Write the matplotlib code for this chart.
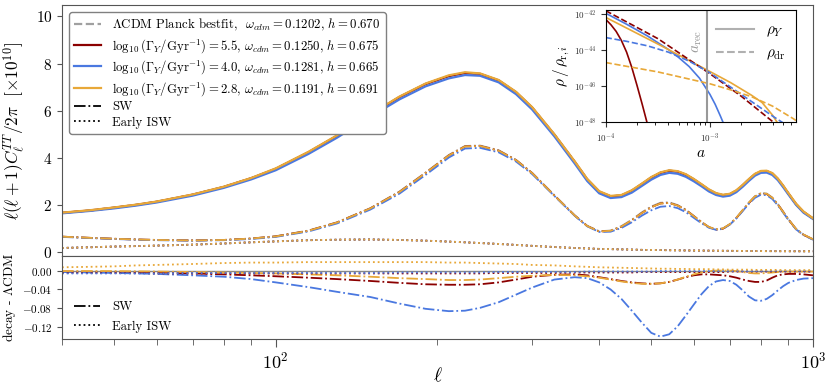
import matplotlib
matplotlib.use("Agg")
import matplotlib.pyplot as plt
import numpy as np

plt.rcParams["font.family"] = "serif"
plt.rcParams["font.serif"] = ["cmr10"]
plt.rcParams["mathtext.fontset"] = "cm"
plt.rcParams["axes.formatter.use_mathtext"] = True
plt.rcParams["axes.unicode_minus"] = True

# multipoles
ell = [40, 45, 50, 55, 60, 70, 80, 90, 100, 115, 130, 150, 170, 190, 210, 225, 240,
       260, 280, 300, 330, 360, 380, 400, 420, 440, 460, 480, 500, 520, 540, 560,
       580, 600, 620, 640, 660, 680, 700, 720, 740, 760, 780, 800, 820, 840, 860,
       880, 900, 930, 960, 1000]

# total TT  [x 1e10]
tt_lcdm = [1.66, 1.76, 1.88, 2.00, 2.13, 2.43, 2.76, 3.13, 3.53, 4.23, 4.93, 5.83, 6.58,
           7.13, 7.47, 7.60, 7.56, 7.28, 6.78, 6.13, 4.98, 3.83, 3.08, 2.56, 2.36, 2.40,
           2.60, 2.88, 3.16, 3.36, 3.45, 3.41, 3.28, 3.08, 2.86, 2.64, 2.48, 2.41, 2.45,
           2.60, 2.83, 3.08, 3.30, 3.42, 3.43, 3.33, 3.10, 2.80, 2.48, 2.03, 1.70, 1.42]
tt_55 = [1.66, 1.76, 1.88, 2.00, 2.13, 2.43, 2.76, 3.13, 3.53, 4.23, 4.93, 5.83, 6.58,
         7.13, 7.47, 7.60, 7.56, 7.28, 6.78, 6.13, 4.98, 3.83, 3.08, 2.56, 2.36, 2.40,
         2.60, 2.88, 3.16, 3.36, 3.45, 3.41, 3.28, 3.08, 2.86, 2.64, 2.48, 2.41, 2.45,
         2.60, 2.83, 3.08, 3.30, 3.42, 3.43, 3.33, 3.10, 2.80, 2.48, 2.03, 1.70, 1.42]
tt_40 = [1.64, 1.74, 1.85, 1.97, 2.10, 2.39, 2.72, 3.08, 3.47, 4.16, 4.85, 5.74, 6.48,
         7.03, 7.37, 7.51, 7.48, 7.20, 6.70, 6.05, 4.91, 3.76, 3.01, 2.49, 2.29, 2.33,
         2.52, 2.80, 3.07, 3.27, 3.36, 3.32, 3.19, 3.00, 2.79, 2.57, 2.42, 2.35, 2.39,
         2.54, 2.77, 3.02, 3.24, 3.36, 3.37, 3.27, 3.05, 2.75, 2.44, 2.00, 1.67, 1.40]
tt_28 = [1.67, 1.77, 1.89, 2.01, 2.14, 2.44, 2.77, 3.14, 3.55, 4.25, 4.95, 5.85, 6.60,
         7.15, 7.50, 7.63, 7.58, 7.30, 6.80, 6.15, 5.00, 3.85, 3.10, 2.58, 2.38, 2.42,
         2.62, 2.90, 3.18, 3.38, 3.47, 3.43, 3.30, 3.10, 2.88, 2.66, 2.50, 2.43, 2.47,
         2.62, 2.85, 3.10, 3.32, 3.44, 3.45, 3.35, 3.12, 2.82, 2.50, 2.05, 1.72, 1.43]

# Sachs-Wolfe contribution
sw_28 = [0.65, 0.60, 0.56, 0.53, 0.51, 0.49, 0.51, 0.57, 0.66, 0.90, 1.25, 1.85, 2.55,
         3.35, 4.10, 4.48, 4.50, 4.30, 3.90, 3.35, 2.40, 1.55, 1.10, 0.87, 0.90, 1.08,
         1.35, 1.65, 1.90, 2.06, 2.08, 1.97, 1.78, 1.52, 1.27, 1.06, 0.96, 1.00, 1.18,
         1.45, 1.78, 2.10, 2.36, 2.49, 2.47, 2.30, 2.02, 1.70, 1.38, 0.98, 0.74, 0.54]
sw_40 = [0.64, 0.59, 0.55, 0.52, 0.50, 0.48, 0.50, 0.55, 0.64, 0.87, 1.21, 1.80, 2.48,
         3.27, 4.01, 4.39, 4.42, 4.23, 3.84, 3.31, 2.38, 1.54, 1.09, 0.85, 0.86, 1.02,
         1.26, 1.54, 1.77, 1.92, 1.95, 1.86, 1.69, 1.45, 1.22, 1.03, 0.94, 0.98, 1.16,
         1.42, 1.74, 2.05, 2.30, 2.43, 2.41, 2.25, 1.98, 1.67, 1.36, 0.96, 0.72, 0.52]
sw_lcdm = [0.65, 0.60, 0.56, 0.53, 0.51, 0.49, 0.51, 0.57, 0.67, 0.91, 1.26, 1.86, 2.57,
           3.37, 4.12, 4.50, 4.52, 4.32, 3.91, 3.36, 2.41, 1.56, 1.11, 0.88, 0.91, 1.10,
           1.37, 1.68, 1.93, 2.09, 2.11, 1.99, 1.79, 1.53, 1.27, 1.06, 0.96, 1.00, 1.18,
           1.45, 1.78, 2.10, 2.37, 2.50, 2.48, 2.31, 2.03, 1.71, 1.39, 0.98, 0.74, 0.54]
sw_55 = [0.65, 0.60, 0.56, 0.53, 0.51, 0.49, 0.51, 0.57, 0.66, 0.90, 1.25, 1.85, 2.55,
         3.35, 4.10, 4.48, 4.50, 4.30, 3.90, 3.35, 2.40, 1.55, 1.10, 0.87, 0.89, 1.07,
         1.34, 1.65, 1.90, 2.06, 2.08, 1.97, 1.78, 1.52, 1.27, 1.05, 0.95, 0.99, 1.17,
         1.44, 1.76, 2.08, 2.35, 2.48, 2.46, 2.29, 2.02, 1.70, 1.38, 0.97, 0.73, 0.53]

# early ISW contribution
eisw = [0.17, 0.20, 0.23, 0.25, 0.27, 0.31, 0.36, 0.41, 0.45, 0.50, 0.52, 0.53, 0.51,
        0.48, 0.44, 0.41, 0.38, 0.34, 0.30, 0.26, 0.21, 0.17, 0.15, 0.13, 0.12, 0.11,
        0.10, 0.09, 0.085, 0.08, 0.075, 0.07, 0.065, 0.06, 0.058, 0.055, 0.053, 0.05,
        0.048, 0.046, 0.044, 0.042, 0.04, 0.038, 0.036, 0.035, 0.034, 0.033, 0.032,
        0.031, 0.03, 0.03]

# differences decay - LCDM
dsw_55 = [-0.002, -0.0025, -0.003, -0.0035, -0.004, -0.006, -0.008, -0.010, -0.012,
          -0.015, -0.018, -0.022, -0.026, -0.029, -0.030, -0.030, -0.029, -0.025, -0.019,
          -0.013, -0.009, -0.008, -0.010, -0.014, -0.018, -0.022, -0.025, -0.027, -0.028,
          -0.027, -0.024, -0.019, -0.014, -0.010, -0.008, -0.008, -0.009, -0.010, -0.012,
          -0.015, -0.019, -0.022, -0.024, -0.024, -0.021, -0.015, -0.010, -0.008, -0.007,
          -0.007, -0.008, -0.010]
dsw_40 = [-0.003, -0.004, -0.005, -0.006, -0.007, -0.010, -0.013, -0.018, -0.025, -0.035,
          -0.045, -0.056, -0.070, -0.081, -0.086, -0.085, -0.079, -0.067, -0.051, -0.036,
          -0.019, -0.014, -0.016, -0.025, -0.040, -0.060, -0.085, -0.110, -0.132, -0.140,
          -0.135, -0.118, -0.095, -0.072, -0.050, -0.033, -0.023, -0.020, -0.022, -0.030,
          -0.042, -0.055, -0.063, -0.064, -0.060, -0.052, -0.042, -0.033, -0.026, -0.020,
          -0.017, -0.016]
dsw_28 = [-0.001, -0.001, -0.001, -0.0015, -0.002, -0.003, -0.004, -0.005, -0.006, -0.008,
          -0.010, -0.013, -0.016, -0.018, -0.020, -0.020, -0.019, -0.016, -0.013, -0.011,
          -0.009, -0.010, -0.012, -0.015, -0.019, -0.023, -0.026, -0.028, -0.028, -0.027,
          -0.024, -0.019, -0.013, -0.008, -0.004, -0.001, 0.000, 0.000, 0.000, -0.001,
          -0.003, -0.005, -0.006, -0.006, -0.005, -0.004, -0.003, -0.002, -0.002, -0.002,
          -0.002, -0.002]
deisw_55 = [-0.005, -0.005, -0.005, -0.005, -0.006, -0.006, -0.006, -0.006, -0.006, -0.006,
            -0.006, -0.006, -0.006, -0.006, -0.006, -0.006, -0.006, -0.005, -0.005, -0.005,
            -0.005, -0.004, -0.004, -0.004, -0.004, -0.004, -0.004, -0.003, -0.003, -0.003,
            -0.003, -0.003, -0.003, -0.003, -0.003, -0.003, -0.003, -0.003, -0.002, -0.002,
            -0.002, -0.002, -0.002, -0.002, -0.002, -0.002, -0.002, -0.002, -0.002, -0.002,
            -0.002, -0.002]
deisw_40 = [-0.006, -0.006, -0.006, -0.006, -0.006, -0.005, -0.005, -0.005, -0.005, -0.005,
            -0.005, -0.005, -0.004, -0.004, -0.004, -0.004, -0.004, -0.003, -0.003, -0.003,
            -0.003, -0.003, -0.002, -0.002, -0.002, -0.002, -0.002, -0.002, -0.002, -0.001,
            -0.001, -0.001, -0.001, -0.001, -0.001, -0.001, -0.001, -0.001, -0.001, -0.001,
            -0.001, -0.001, -0.001, -0.001, -0.0005, -0.0005, -0.0005, -0.0005, -0.0005,
            -0.0005, -0.0005, -0.0005]
deisw_28 = [0.007, 0.008, 0.009, 0.011, 0.012, 0.014, 0.016, 0.017, 0.017, 0.018, 0.018,
            0.018, 0.018, 0.018, 0.017, 0.017, 0.016, 0.015, 0.014, 0.012, 0.011, 0.009,
            0.008, 0.007, 0.0065, 0.006, 0.0055, 0.005, 0.0045, 0.004, 0.004, 0.0035, 0.0035,
            0.003, 0.003, 0.003, 0.0025, 0.0025, 0.002, 0.002, 0.002, 0.002, 0.0015, 0.0015,
            0.0015, 0.0015, 0.0015, 0.001, 0.001, 0.001, 0.001, 0.001]

# inset: log10(a), log10(rho/rho_r,i)
la_y55 = [-4.0, -3.95, -3.9, -3.85, -3.8, -3.75, -3.7, -3.65, -3.6]
lr_y55 = [-42.28, -42.58, -42.95, -43.45, -44.1, -44.95, -45.95, -47.0, -48.1]
la_y40 = [-4.0, -3.8, -3.6, -3.4, -3.3, -3.2, -3.1, -3.0, -2.95, -2.9, -2.86]
lr_y40 = [-41.94, -42.55, -43.2, -43.95, -44.4, -44.9, -45.55, -46.45, -47.0, -47.65, -48.2]
la_y28 = [-4.0, -3.5, -3.0, -2.8, -2.6, -2.5, -2.4, -2.35]
lr_y28 = [-42.17, -43.65, -45.18, -45.8, -46.5, -46.9, -47.6, -48.05]
la_dr55 = [-4.0, -3.5, -3.0, -2.7, -2.39]
lr_dr55 = [-41.8, -43.35, -45.3, -46.55, -48.0]
la_dr40 = [-4.0, -3.8, -3.6, -3.4, -3.2, -3.0, -2.8, -2.6, -2.4, -2.28]
lr_dr40 = [-43.29, -43.5, -43.75, -44.1, -44.6, -45.25, -46.05, -46.85, -47.65, -48.1]
la_dr28 = [-4.0, -3.5, -3.0, -2.8, -2.6, -2.4, -2.2, -2.175]
lr_dr28 = [-44.68, -45.2, -45.86, -46.2, -46.58, -47.1, -47.8, -47.9]
a_rec = 9.4e-4

labels = [r"$\Lambda$CDM Planck bestfit,  $\omega_{cdm} = 0.1202$, $h = 0.670$",
          r"$\log_{10}(\Gamma_Y/\mathrm{Gyr}^{-1}) = 5.5$, $\omega_{cdm} = 0.1250$, $h = 0.675$",
          r"$\log_{10}(\Gamma_Y/\mathrm{Gyr}^{-1}) = 4.0$, $\omega_{cdm} = 0.1281$, $h = 0.665$",
          r"$\log_{10}(\Gamma_Y/\mathrm{Gyr}^{-1}) = 2.8$, $\omega_{cdm} = 0.1191$, $h = 0.691$"]
c_gray = "#a0a0a0"
c_red = "#8b0000"
c_blue = "#4a78e0"
c_yel = "#e8a838"
spine_c = "#555555"

fig = plt.figure(figsize=(8.3, 3.92), dpi=100)
ax = fig.add_axes([0.0747, 0.347, 0.9048, 0.640])
axd = fig.add_axes([0.0747, 0.134, 0.9048, 0.213], sharex=ax)

models = [(tt_lcdm, sw_lcdm, c_gray, "--"), (tt_55, sw_55, c_red, "-"),
          (tt_40, sw_40, c_blue, "-"), (tt_28, sw_28, c_yel, "-")]
for (tt, sw, c, ls), lab in zip(models, labels):
    ax.plot(ell, tt, color=c, ls=ls, lw=1.6, label=lab)
for tt, sw, c, ls in models:
    ax.plot(ell, sw, color=c, ls="-.", lw=1.3)
    ax.plot(ell, eisw, color=c, ls=":", lw=1.3)
ax.plot([], [], color="k", ls="-.", lw=1.3, label="SW")
ax.plot([], [], color="k", ls=":", lw=1.3, label="Early ISW")

ax.set_xscale("log")
ax.set_xlim(40, 1000)
ax.set_ylim(-0.17, 10.48)
ax.set_yticks([0, 2, 4, 6, 8, 10])
ax.tick_params(axis="y", labelsize=11, colors=spine_c, labelcolor="k")
ax.tick_params(axis="x", which="both", bottom=False, labelbottom=False)
ax.set_ylabel(r"$\ell(\ell+1)C_\ell^{TT}/2\pi\ \ [\times 10^{10}]$", fontsize=12.5)
ax.yaxis.set_label_coords(-0.047, 0.5)
leg = ax.legend(loc="upper left", fontsize=9.2, handlelength=2.1, handletextpad=0.9,
                borderaxespad=0.55, labelspacing=0.27, edgecolor="#808080", framealpha=1)

# lower panel
axd.axhline(0, color="#888888", lw=1)
for d, c in [(dsw_55, c_red), (dsw_40, c_blue), (dsw_28, c_yel)]:
    axd.plot(ell, d, color=c, ls="-.", lw=1.3)
for d, c in [(deisw_55, c_red), (deisw_40, c_blue), (deisw_28, c_yel)]:
    axd.plot(ell, d, color=c, ls=":", lw=1.3)
h1, = axd.plot([], [], color="k", ls="-.", lw=1.3)
h2, = axd.plot([], [], color="k", ls=":", lw=1.3)
axd.legend([h1, h2], ["SW", "Early ISW"], loc="lower left", fontsize=9.2, frameon=False,
           handlelength=2.1, handletextpad=0.9, labelspacing=0.55,
           bbox_to_anchor=(0.0, -0.055))
axd.set_ylim(-0.146, 0.031)
axd.set_yticks([0.0, -0.04, -0.08, -0.12])
axd.yaxis.set_major_formatter(plt.FuncFormatter(
    lambda v, p: "$%.2f$" % v if v >= 0 else r"$-%.2f$" % abs(v)))
axd.tick_params(axis="y", labelsize=8, colors=spine_c, labelcolor="k")
axd.tick_params(axis="x", which="both", labelsize=13, colors=spine_c, labelcolor="k", pad=2)
axd.tick_params(axis="x", which="major", length=6)
axd.tick_params(axis="x", which="minor", length=4)
axd.set_ylabel(r"decay - $\Lambda$CDM", fontsize=9.6)
axd.yaxis.set_label_coords(-0.059, 0.5)
axd.set_xlabel(r"$\ell$", fontsize=14, labelpad=-3)

for a in (ax, axd):
    for s in a.spines.values():
        s.set_color(spine_c)

# inset
axi = fig.add_axes([0.7298, 0.688, 0.2293, 0.2865])
axi.plot(np.power(10.0, la_y55), np.power(10.0, lr_y55), color=c_red, lw=1.2)
axi.plot(np.power(10.0, la_y40), np.power(10.0, lr_y40), color=c_blue, lw=1.2)
axi.plot(np.power(10.0, la_y28), np.power(10.0, lr_y28), color=c_yel, lw=1.2)
axi.plot(np.power(10.0, la_dr55), np.power(10.0, lr_dr55), color=c_red, lw=1.2, ls="--")
axi.plot(np.power(10.0, la_dr40), np.power(10.0, lr_dr40), color=c_blue, lw=1.2, ls="--")
axi.plot(np.power(10.0, la_dr28), np.power(10.0, lr_dr28), color=c_yel, lw=1.2, ls="--")
axi.axvline(a_rec, color="#999999", lw=1.5)
axi.text(a_rec * 0.93, 7e-45, r"$a_\mathrm{rec}$", rotation=90, color="#999999",
         fontsize=11, ha="right", va="bottom")
g1, = axi.plot([], [], color="#b0b0b0", lw=1.5)
g2, = axi.plot([], [], color="#b0b0b0", lw=1.5, ls="--")
axi.legend([g1, g2], [r"$\rho_Y$", r"$\rho_\mathrm{dr}$"], loc="upper right", frameon=False,
           fontsize=11, handlelength=2.5, bbox_to_anchor=(1.02, 1.0))
axi.set_xscale("log")
axi.set_yscale("log")
axi.set_xlim(1e-4, 6.7e-3)
axi.set_ylim(1e-48, 1.74e-42)
axi.set_yticks([1e-48, 1e-46, 1e-44, 1e-42])
axi.yaxis.set_minor_locator(matplotlib.ticker.NullLocator())
axi.tick_params(labelsize=6.5, colors="#333333", labelcolor="#333333")
axi.set_xlabel(r"$a$", fontsize=11, labelpad=1)
axi.set_ylabel(r"$\rho\,/\,\rho_{\mathrm{r},i}$", fontsize=11, labelpad=1)

fig.savefig("out.png", dpi=100)
